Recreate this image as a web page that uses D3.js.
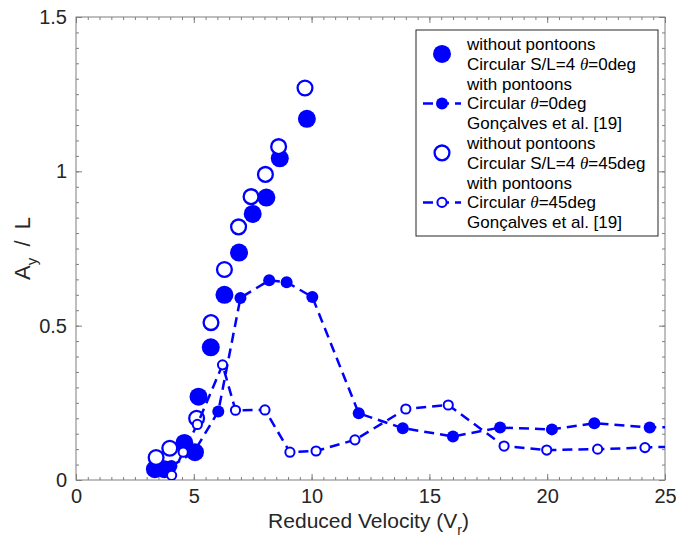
<!DOCTYPE html>
<html><head><meta charset="utf-8">
<script src="https://cdn.jsdelivr.net/npm/d3@7"></script>
<style>
body{margin:0;background:#fff}
svg{display:block}
text{font-family:"Liberation Sans",Arial,Helvetica,sans-serif}
</style>
</head><body>
<svg id="c" width="676" height="539"></svg>
<script>
// ---------- data ----------
const xTicks = [0, 5, 10, 15, 20, 25];
const xTickLabels = ["0", "5", "10", "15", "20", "25"];
const yTicks = [0, 0.5, 1, 1.5];
const yTickLabels = ["0", "0.5", "1", "1.5"];

// without pontoons, Circular S/L=4, theta=0deg (filled, markers only)
const vr1 = [3.35, 3.75, 4.6, 5.05, 5.2, 5.72, 6.3, 6.92, 7.5, 8.08, 8.65, 9.8];
const ay1 = [0.035, 0.035, 0.12, 0.09, 0.27, 0.43, 0.6, 0.737, 0.862, 0.915, 1.042, 1.17];

// with pontoons, Circular theta=0deg, Gonçalves (filled, dashed)
const vr2 = [4.05, 5.0, 6.04, 6.98, 8.2, 8.94, 10.03, 12.0, 13.87, 16.0, 18.0, 20.2, 22.0, 24.35, 26.0];
const ay2 = [0.045, 0.09, 0.222, 0.59, 0.647, 0.641, 0.593, 0.216, 0.168, 0.141, 0.17, 0.164, 0.184, 0.17, 0.173];

// without pontoons, Circular S/L=4, theta=45deg (open, markers only)
const vr3 = [3.4, 3.98, 5.12, 5.73, 6.3, 6.9, 7.43, 8.04, 8.6, 9.72];
const ay3 = [0.073, 0.103, 0.2, 0.51, 0.682, 0.82, 0.918, 0.99, 1.08, 1.27];

// with pontoons, Circular theta=45deg, Gonçalves (open, dashed)
const vr4 = [4.06, 4.55, 5.15, 6.22, 6.77, 8.02, 9.08, 10.19, 11.84, 14.0, 15.8, 18.17, 19.98, 22.14, 24.15, 26.0];
const ay4 = [0.015, 0.09, 0.18, 0.373, 0.226, 0.227, 0.09, 0.094, 0.13, 0.23, 0.243, 0.11, 0.097, 0.1, 0.105, 0.11];

const legendLines = [
  ["without pontoons"],
  ["Circular S/L=4 ", "θ", "=0deg"],
  ["with pontoons"],
  ["Circular ", "θ", "=0deg"],
  ["Gonçalves et al. [19]"],
  ["without pontoons"],
  ["Circular S/L=4 ", "θ", "=45deg"],
  ["with pontoons"],
  ["Circular ", "θ", "=45deg"],
  ["Gonçalves et al. [19]"]
];

// ---------- layout ----------
const BLUE = "#0000ff";
const AX = "#7f7f7f", TXT = "#262626";
const m = {l: 76, r: 665, t: 17, b: 480};
const x = d3.scaleLinear([0, 25], [m.l, m.r]);
const y = d3.scaleLinear([0, 1.5], [m.b, m.t]);
const svg = d3.select("#c");

svg.append("defs").append("clipPath").attr("id", "clip")
  .append("rect").attr("x", m.l).attr("y", m.t).attr("width", m.r - m.l).attr("height", m.b - m.t);

// ticks (inside, all four sides)
const xMinor = d3.range(0, 25.001, 0.5);
const yMinor = d3.range(0, 1.5001, 0.05);
function tickAxis(axisFn, scale, vals, size, tr) {
  const g = svg.append("g").attr("transform", tr)
    .call(axisFn(scale).tickValues(vals).tickSizeInner(size).tickSizeOuter(0).tickFormat(""));
  g.select(".domain").remove();
  g.selectAll("line").attr("stroke", AX);
  g.selectAll("text").remove();
}
tickAxis(d3.axisBottom, x, xMinor, -3, `translate(0,${m.b})`);
tickAxis(d3.axisTop, x, xMinor, -3, `translate(0,${m.t})`);
tickAxis(d3.axisLeft, y, yMinor, -3, `translate(${m.l},0)`);
tickAxis(d3.axisRight, y, yMinor, -3, `translate(${m.r},0)`);
tickAxis(d3.axisBottom, x, xTicks, -6, `translate(0,${m.b})`);
tickAxis(d3.axisTop, x, xTicks, -6, `translate(0,${m.t})`);
tickAxis(d3.axisLeft, y, yTicks, -6, `translate(${m.l},0)`);
tickAxis(d3.axisRight, y, yTicks, -6, `translate(${m.r},0)`);

// labelled axes
const gx = svg.append("g").attr("transform", `translate(0,${m.b})`)
  .call(d3.axisBottom(x).tickValues(xTicks).tickSize(0).tickPadding(9)
    .tickFormat((d, i) => xTickLabels[i]));
gx.select(".domain").remove();
gx.selectAll("text").attr("font-size", 20).attr("fill", TXT).style("font-family", "'Liberation Sans',Arial,sans-serif");
const gy = svg.append("g").attr("transform", `translate(${m.l},0)`)
  .call(d3.axisLeft(y).tickValues(yTicks).tickSize(0).tickPadding(9)
    .tickFormat((d, i) => yTickLabels[i]));
gy.select(".domain").remove();
gy.selectAll("text").attr("font-size", 20).attr("fill", TXT).style("font-family", "'Liberation Sans',Arial,sans-serif");

// frame
svg.append("rect").attr("x", m.l).attr("y", m.t).attr("width", m.r - m.l).attr("height", m.b - m.t)
  .attr("fill", "none").attr("stroke", AX).attr("stroke-width", 1);

// axis titles
const xt = svg.append("text").attr("x", (m.l + m.r) / 2 - 2).attr("y", 528)
  .attr("text-anchor", "middle").attr("font-size", 21).attr("fill", TXT);
xt.append("tspan").text("Reduced Velocity (V");
xt.append("tspan").attr("font-size", 14).attr("dy", 7).text("r");
xt.append("tspan").attr("dy", -7).text(")");

const yt = svg.append("text").attr("transform", `translate(30,${(m.t + m.b) / 2}) rotate(-90)`)
  .attr("text-anchor", "middle").attr("font-size", 22).attr("fill", TXT)
  .attr("word-spacing", 5);
yt.append("tspan").text("A");
yt.append("tspan").attr("font-size", 15).attr("dy", 7).text("y");
yt.append("tspan").attr("dy", -7).text(" / L");

// ---------- data marks ----------
const plot = svg.append("g").attr("clip-path", "url(#clip)");
const line = d3.line().x(d => x(d[0])).y(d => y(d[1]));
const pts = (a, b) => a.map((v, i) => [v, b[i]]);
const d1 = pts(vr1, ay1), d2 = pts(vr2, ay2), d3p = pts(vr3, ay3), d4 = pts(vr4, ay4);

plot.selectAll(".s1").data(d1).join("circle").attr("class", "s1")
  .attr("cx", d => x(d[0])).attr("cy", d => y(d[1])).attr("r", 9).attr("fill", BLUE);

plot.append("path").datum(d2).attr("d", line).attr("fill", "none").attr("stroke", BLUE)
  .attr("stroke-width", 2.5).attr("stroke-dasharray", "10,6");
plot.selectAll(".s2").data(d2).join("circle").attr("class", "s2")
  .attr("cx", d => x(d[0])).attr("cy", d => y(d[1])).attr("r", 6).attr("fill", BLUE);

plot.selectAll(".s3").data(d3p).join("circle").attr("class", "s3")
  .attr("cx", d => x(d[0])).attr("cy", d => y(d[1])).attr("r", 7.4)
  .attr("fill", "#fff").attr("stroke", BLUE).attr("stroke-width", 2.3);

plot.append("path").datum(d4).attr("d", line).attr("fill", "none").attr("stroke", BLUE)
  .attr("stroke-width", 2.5).attr("stroke-dasharray", "10,6");
plot.selectAll(".s4").data(d4).join("circle").attr("class", "s4")
  .attr("cx", d => x(d[0])).attr("cy", d => y(d[1])).attr("r", 4.6)
  .attr("fill", "#fff").attr("stroke", BLUE).attr("stroke-width", 2);

// ---------- legend ----------
const lg = svg.append("g");
lg.append("rect").attr("x", 416).attr("y", 30).attr("width", 242).attr("height", 206)
  .attr("fill", "#fff").attr("stroke", "#262626").attr("stroke-width", 1);
const ly0 = 44, ldy = 19.8;
legendLines.forEach((parts, i) => {
  const t = lg.append("text").attr("x", 467).attr("y", ly0 + i * ldy).attr("dy", "0.35em")
    .attr("font-size", 17).attr("fill", "#000");
  parts.forEach(p => {
    const s = t.append("tspan").text(p);
    if (p === "θ") s.attr("font-family", "'Liberation Serif','Times New Roman',serif").attr("font-style", "italic");
  });
});
const mx = 442;
lg.append("circle").attr("cx", mx).attr("cy", ly0 + 0.5 * ldy).attr("r", 9).attr("fill", BLUE);
lg.append("line").attr("x1", 423).attr("x2", 461).attr("y1", ly0 + 3 * ldy).attr("y2", ly0 + 3 * ldy)
  .attr("stroke", BLUE).attr("stroke-width", 2.5).attr("stroke-dasharray", "10,6");
lg.append("circle").attr("cx", mx).attr("cy", ly0 + 3 * ldy).attr("r", 6).attr("fill", BLUE);
lg.append("circle").attr("cx", mx).attr("cy", ly0 + 5.5 * ldy).attr("r", 7.4)
  .attr("fill", "#fff").attr("stroke", BLUE).attr("stroke-width", 2.3);
lg.append("line").attr("x1", 423).attr("x2", 461).attr("y1", ly0 + 8 * ldy).attr("y2", ly0 + 8 * ldy)
  .attr("stroke", BLUE).attr("stroke-width", 2.5).attr("stroke-dasharray", "10,6");
lg.append("circle").attr("cx", mx).attr("cy", ly0 + 8 * ldy).attr("r", 4.6)
  .attr("fill", "#fff").attr("stroke", BLUE).attr("stroke-width", 2);
</script>
</body></html>
